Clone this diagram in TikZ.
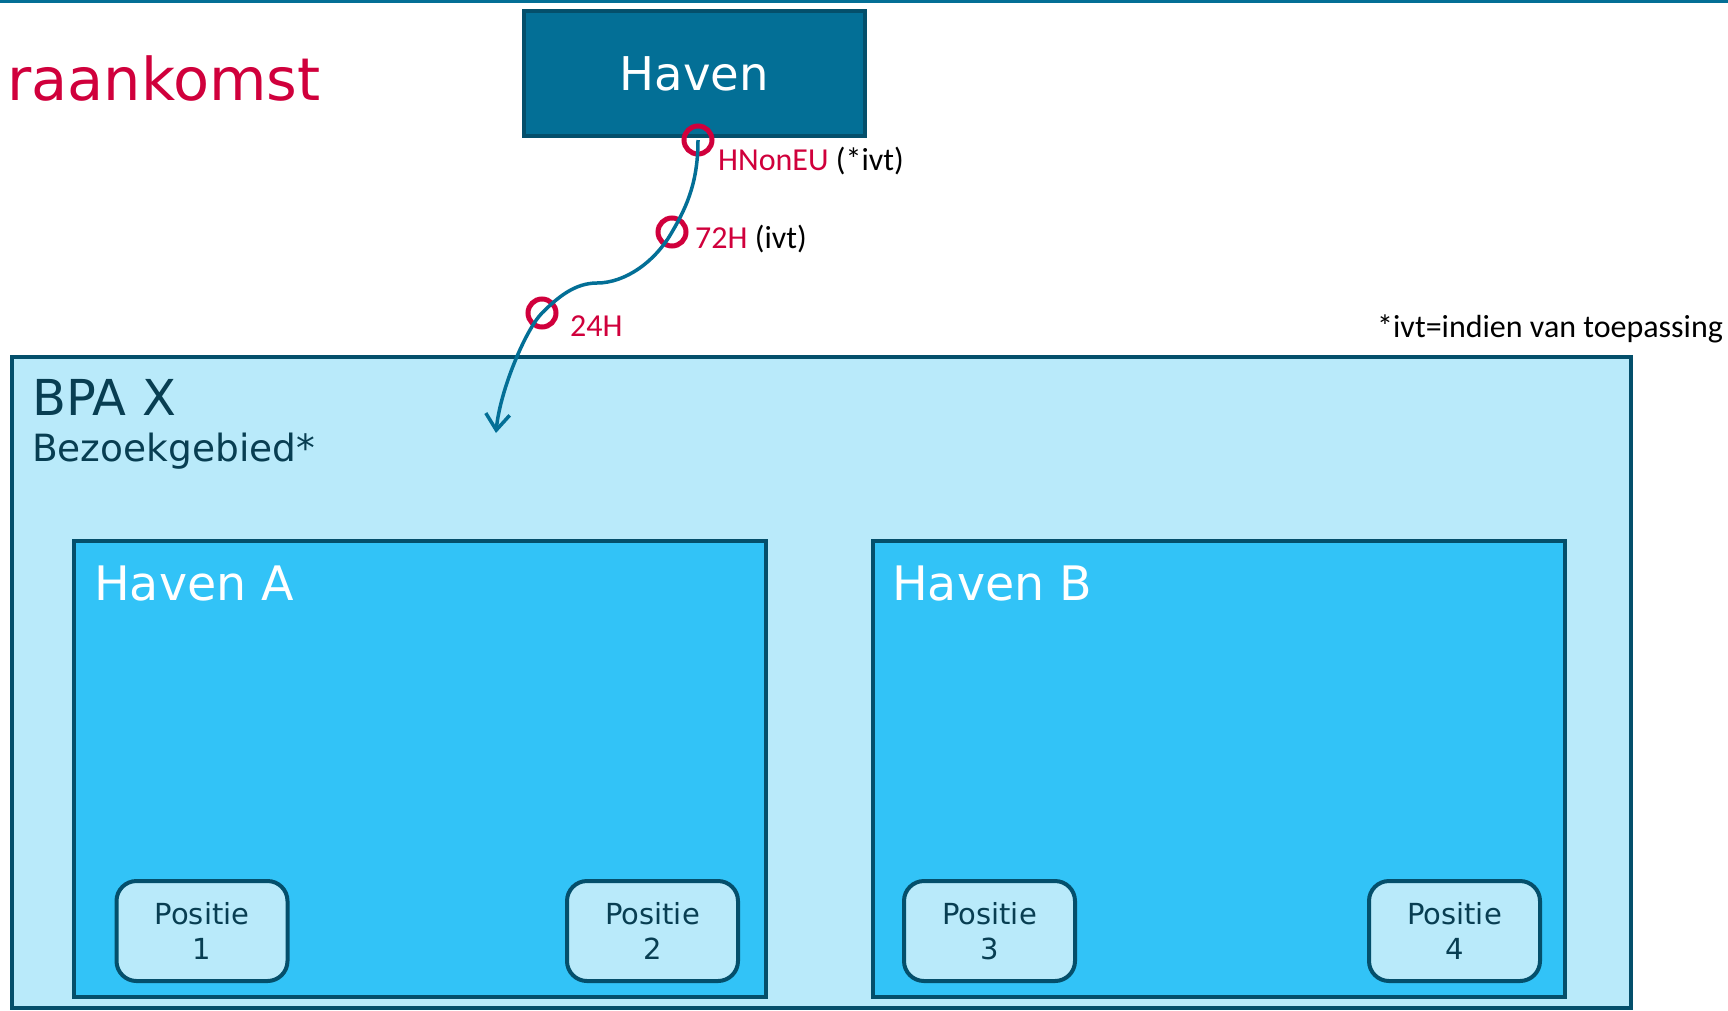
\documentclass[tikz,border=0pt]{standalone}
\usepackage{fontspec}
\setmainfont{DejaVu Sans}
\newfontfamily\notefont{Carlito}
\usetikzlibrary{arrows.meta}

\newlength{\du}
\setlength{\du}{1pt}

\definecolor{havenblue}{RGB}{3,111,150}
\definecolor{edgecolor}{RGB}{4,79,107}
\definecolor{lightfill}{RGB}{185,234,250}
\definecolor{cyanfill}{RGB}{50,195,247}
\definecolor{crimson}{RGB}{208,0,60}
\definecolor{darktext}{RGB}{8,62,82}

\begin{document}
\begin{tikzpicture}[x=1\du,y=-1\du,
  box/.style={draw=edgecolor,line width=4\du,inner sep=0pt},
  havenbox/.style={box,fill=cyanfill,minimum width=692\du,minimum height=456\du},
  positiebox/.style={box,fill=lightfill,rounded corners=20\du,minimum width=171\du,minimum height=100\du,
    align=center,text=darktext,font=\fontsize{29}{35}\selectfont},
  ring/.style={circle,draw=crimson,line width=5\du,minimum size=28\du,inner sep=0pt},
  marklabel/.style={anchor=base west,inner sep=0pt,text=crimson,font=\notefont\fontsize{32}{38}\selectfont},
  boxlabel/.style={anchor=base west,inner sep=0pt},
  flowline/.style={draw=havenblue,line width=3.5pt,-{Straight Barb[length=16pt,width=24pt]}}]
\useasboundingbox (0,0) rectangle (1728,1010);
\fill[white] (0,0) rectangle (1728,1010);
% top rule and title
\draw[line width=3\du,havenblue] (0,1.5) -- (1728,1.5);
\node[boxlabel,text=crimson,font=\fontsize{59}{70}\selectfont] (title) at (7,100) {raankomst};
\node[box,fill=havenblue,text=white,minimum width=341\du,minimum height=125\du,
  font=\fontsize{46.5}{56}\selectfont] (haven) at (694.5,73.5) {Haven};
% bezoekgebied
\node[box,fill=lightfill,minimum width=1619\du,minimum height=651\du] (bpa) at (821.5,682.5) {};
\node[boxlabel,text=darktext,font=\fontsize{49.5}{59}\selectfont] (bpaname) at (32,415) {BPA X};
\node[boxlabel,text=darktext,font=\fontsize{37.5}{45}\selectfont] (bpasub) at (32,461) {Bezoekgebied*};
\node[havenbox] (havena) at (420,769) {};
\node[havenbox] (havenb) at (1218.5,769) {};
\node[boxlabel,text=white,font=\fontsize{47.5}{57}\selectfont] (havenaname) at (94,600) {Haven A};
\node[boxlabel,text=white,font=\fontsize{47.5}{57}\selectfont] (havenbname) at (892,600) {Haven B};
\node[positiebox] (pos1) at (202,931) {Positie\\1};
\node[positiebox] (pos2) at (652.5,931) {Positie\\2};
\node[positiebox] (pos3) at (989.5,931) {Positie\\3};
\node[positiebox] (pos4) at (1454.5,931) {Positie\\4};
% meldmomenten
\node[ring] (hnoneu) at (698,140) {};
\node[ring] (h72) at (672,232) {};
\node[ring] (h24) at (542,313) {};
\coordinate (bend) at (597,283);
\coordinate (arrowend) at (496,433);
\draw[flowline] (hnoneu.center) .. controls (698,180) and (688,205) .. (h72.center)
  .. controls (655,262) and (625,283) .. (bend)
  .. controls (575,283) and (558,297) .. (h24.center)
  .. controls (526,329) and (500,390) .. (arrowend);
\node[marklabel] (lblhnoneu) at (718,170) {HNonEU \textcolor{black}{(*ivt)}};
\node[marklabel] (lbl72) at (695,248) {72H \textcolor{black}{(ivt)}};
\node[marklabel] (lbl24) at (570,336) {24H};
\node[marklabel,text=black] (note) at (1377,337) {*ivt=indien van toepassing};
\end{tikzpicture}
\end{document}
